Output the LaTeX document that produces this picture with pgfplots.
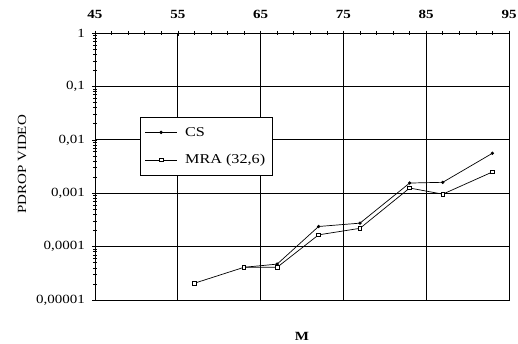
\documentclass[border=0pt]{standalone}
\usepackage{fontspec}
\setmainfont{Liberation Serif}[FakeStretch=1.2]
\usepackage{pgfplots}
\pgfplotsset{compat=1.18}
\begin{document}
\begin{tikzpicture}
\begin{axis}[
  scale only axis,
  width=414pt, height=267pt,
  xmin=45, xmax=95,
  ymode=log, ymin=1e-5, ymax=1,
  /pgf/number format/assume math mode=true,
  axis x line*=top,
  axis y line*=left,
  xtick={45,55,65,75,85,95},
  minor x tick num=4,
  xticklabel style={font=\fontsize{12.5}{14}\selectfont\bfseries, yshift=8pt},
  ytick={1e-5,1e-4,1e-3,1e-2,1e-1,1},
  minor ytick={2e-5,3e-5,4e-5,5e-5,6e-5,7e-5,8e-5,9e-5,
               2e-4,3e-4,4e-4,5e-4,6e-4,7e-4,8e-4,9e-4,
               2e-3,3e-3,4e-3,5e-3,6e-3,7e-3,8e-3,9e-3,
               2e-2,3e-2,4e-2,5e-2,6e-2,7e-2,8e-2,9e-2,
               2e-1,3e-1,4e-1,5e-1,6e-1,7e-1,8e-1,9e-1},
  yticklabels={{0,00001},{0,0001},{0,001},{0,01},{0,1},{1}},
  yticklabel style={font=\fontsize{12.5}{14}\selectfont, xshift=-4pt},
  tick align=center,
  major tick length=5pt, minor tick length=4pt,
  tick style={black, line width=0.6pt},
  grid=major,
  major grid style={black, line width=0.7pt},
  axis line style={line width=0.8pt},
  xticklabel pos=right,
  clip=false,
  legend style={at={(axis cs:50.4,0.027)}, anchor=north west, draw=black, line width=0.8pt,
    font=\fontsize{13.5}{15}\selectfont, row sep=13pt, inner xsep=5pt, inner ysep=8pt,
    /tikz/every odd column/.append style={column sep=6pt}},
  legend cell align=left,
  legend image code/.code={\draw[mark repeat=2,mark phase=2,#1] plot coordinates {(0cm,0cm) (0.55cm,0cm) (1.1cm,0cm)};},
]
\addplot[black, line width=0.7pt, mark=*, mark size=1.3pt] coordinates {
 (63,4.1e-5) (67,4.7e-5) (72,2.38e-4) (77,2.75e-4) (83,1.55e-3) (87,1.6e-3) (93,5.6e-3)};
\addlegendentry{CS}
\addplot[black, line width=0.7pt, mark=square*, mark options={fill=white}, mark size=1.8pt] coordinates {
 (57,2.06e-5) (63,4.1e-5) (67,4.1e-5) (72,1.66e-4) (77,2.2e-4) (83,1.25e-3) (87,9.6e-4) (93,2.5e-3)};
\addlegendentry{MRA (32,6)}
\draw[black, line width=0.8pt] (rel axis cs:0,0) -- (rel axis cs:1,0) -- (rel axis cs:1,1);
\node[font=\fontsize{12.5}{14}\selectfont\bfseries] at ([yshift=-36pt]rel axis cs:0.5,0) {M};
\node[font=\fontsize{12.5}{14}\selectfont, rotate=90] at ([xshift=-73pt]rel axis cs:0,0.508) {PDROP VIDEO};
\coordinate (SW) at (rel axis cs:0,0);
\coordinate (NE) at (rel axis cs:1,1);
\end{axis}
\pgfresetboundingbox
\path ([shift={(-95pt,-43pt)}]SW) rectangle ([shift={(9pt,33pt)}]NE);
\end{tikzpicture}
\end{document}
